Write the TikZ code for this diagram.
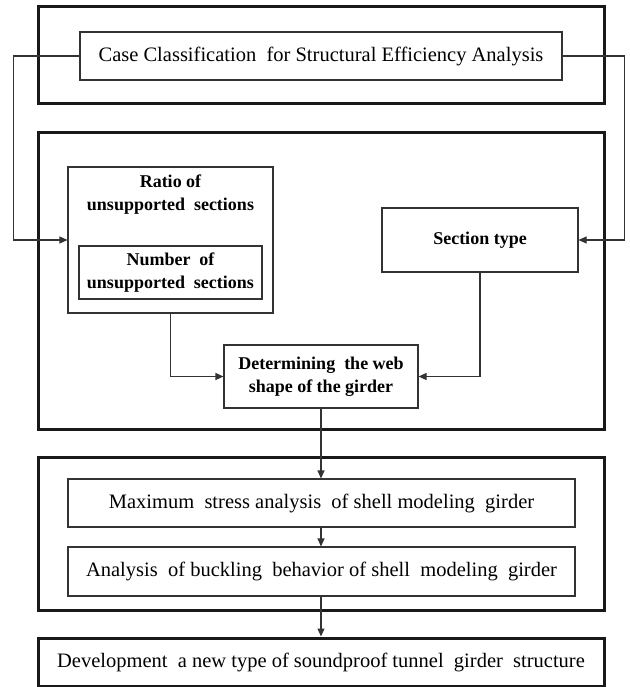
\documentclass[tikz,border=0pt]{standalone}
\usepackage{fontspec}
\setmainfont{Liberation Serif}
\usetikzlibrary{arrows.meta}
\begin{document}
\begin{tikzpicture}[x=1pt,y=-1pt,
  thin box/.style={draw=black!80,line width=1.1pt,rectangle,inner sep=0pt,align=center,
    font=\fontsize{20.5}{24}\selectfont},
  frame/.style={draw=black!90,line width=3pt,rectangle,inner sep=0pt},
  bold box/.style={thin box,font=\fontsize{18}{23}\selectfont\bfseries},
  conn/.style={draw=black!80,line width=1.1pt},
  arr/.style={conn,-{Triangle[length=8pt,width=7pt]}}]
\useasboundingbox (0,0) rectangle (629,687);
% frames
\node[frame,minimum width=566pt,minimum height=97pt] (f1) at (321,55.5) {};
\node[frame,minimum width=566pt,minimum height=296pt] (f2) at (321,281) {};
\node[frame,minimum width=566pt,minimum height=153pt] (f3) at (321,533.5) {};
% boxes
\node[thin box,minimum width=482pt,minimum height=48pt] (title) at (321,56)
  {Case Classification~ for Structural Efficiency Analysis};
\node[thin box,minimum width=205pt,minimum height=146pt] (ratio) at (170.5,240) {};
\node[bold box,draw=none] (ratiotxt) at (170.5,195) {Ratio of\\unsupported~ sections};
\node[bold box,minimum width=183pt,minimum height=53pt] (number) at (170.5,272.5)
  {Number~ of\\unsupported~ sections};
\node[bold box,minimum width=196pt,minimum height=64pt] (section) at (480,240) {Section type};
\node[bold box,minimum width=194pt,minimum height=63pt] (det) at (321,376.5)
  {Determining~ the web\\shape of the girder};
\node[thin box,minimum width=507pt,minimum height=48pt] (maxs) at (321.5,503)
  {Maximum~ stress analysis~ of shell modeling~ girder};
\node[thin box,minimum width=507pt,minimum height=49pt] (buck) at (321.5,571.5)
  {Analysis~ of buckling~ behavior of shell~ modeling~ girder};
\node[frame,minimum width=566pt,minimum height=48pt,align=center,
  font=\fontsize{20.5}{24}\selectfont] (final) at (321,662)
  {Development~ a new type of soundproof tunnel~ girder~ structure};
% connectors
\draw[arr] (title.west) -- ++(-66,0) |- (ratio.west);
\draw[arr] (title.east) -- ++(62,0) |- (section.east);
\draw[arr] (ratio.south) |- (det.west);
\draw[arr] (section.south) |- (det.east);
\draw[arr] (det.south) -- (det.south |- maxs.north);
\draw[arr] (det.south |- maxs.south) -- (det.south |- buck.north);
\draw[arr] (det.south |- buck.south) -- (det.south |- final.north);
\end{tikzpicture}
\end{document}
